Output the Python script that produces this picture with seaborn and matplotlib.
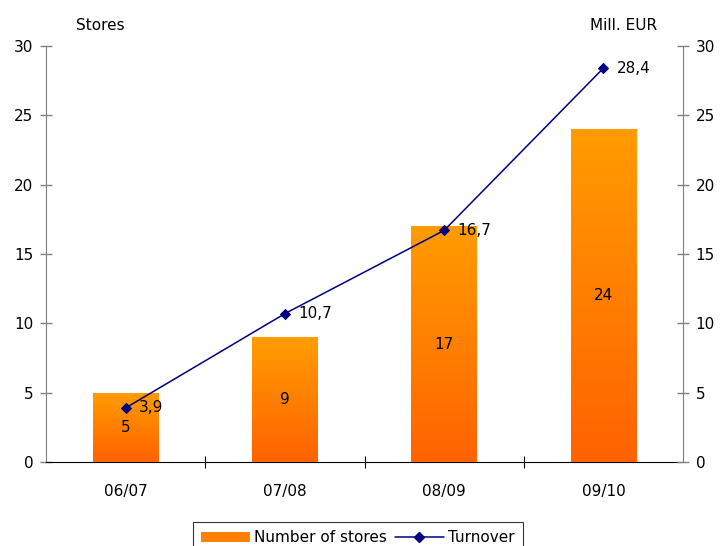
import matplotlib
matplotlib.use("Agg")
import matplotlib.pyplot as plt
import seaborn as sns
import numpy as np
import pandas as pd
from matplotlib.colors import LinearSegmentedColormap
from matplotlib.lines import Line2D
from matplotlib.patches import Patch

periods = ["06/07", "07/08", "08/09", "09/10"]
stores = [5, 9, 17, 24]
turnover = [3.9, 10.7, 16.7, 28.4]
yticks = [0, 5, 10, 15, 20, 25, 30]

FS = 11

sns.set_style("white")
plt.rcParams["font.family"] = ["DejaVu Sans"]
plt.rcParams["font.size"] = FS
plt.rcParams["text.color"] = "black"
plt.rcParams["xtick.labelcolor"] = "black"
plt.rcParams["ytick.labelcolor"] = "black"

fig = plt.figure(figsize=(7.21, 5.46), dpi=100)
ax = fig.add_axes([0.0638, 0.1538, 0.8835, 0.762])

df = pd.DataFrame({"period": periods, "stores": stores})
sns.barplot(data=df, x="period", y="stores", ax=ax, width=0.41,
            color="#FF8000", saturation=1, zorder=2)

# vertical orange gradient inside each bar
grad = LinearSegmentedColormap.from_list("og", ["#FF6200", "#FF9C00"])
ax.set_xlim(-0.5, 3.5)
ax.set_ylim(0, 30)
for p in ax.patches:
    x0, y0 = p.get_x(), p.get_y()
    w, h = p.get_width(), p.get_height()
    img = np.linspace(0, 1, 256).reshape(-1, 1)
    im = ax.imshow(img, cmap=grad, origin="lower", aspect="auto",
                   extent=[x0, x0 + w, y0, y0 + h], zorder=3)
    im.set_clip_path(p)
    ax.text(x0 + w / 2, y0 + h / 2, f"{int(h)}", ha="center", va="center",
            fontsize=FS, color="black", zorder=5)
ax.set_xlim(-0.5, 3.5)
ax.set_ylim(0, 30)

ax2 = ax.twinx()
sns.lineplot(x=np.arange(len(periods)), y=turnover, ax=ax2, color="#000080",
             marker="D", markersize=5, markeredgecolor="#000080",
             linewidth=1.1, zorder=6)
ax2.set_ylim(0, 30)
ax2.set_xlim(-0.5, 3.5)
for i, v in enumerate(turnover):
    ax2.text(i + 0.085, v, f"{v:.1f}".replace(".", ","), ha="left",
             va="center", fontsize=FS, color="black", zorder=7)

for a in (ax, ax2):
    for s in a.spines.values():
        s.set_visible(False)

ax.spines["left"].set_visible(True)
ax.spines["left"].set_color("#808080")
ax.spines["bottom"].set_visible(True)
ax.spines["bottom"].set_color("black")
ax2.spines["right"].set_visible(True)
ax2.spines["right"].set_color("#808080")

ax.set_yticks(yticks)
ax.set_yticklabels([str(t) for t in yticks])
ax2.set_yticks(yticks)
ax2.set_yticklabels([str(t) for t in yticks])
ax.tick_params(axis="y", direction="inout", length=8, width=1,
               color="#808080", left=True, labelsize=FS, pad=5,
               labelcolor="black")
ax2.tick_params(axis="y", direction="inout", length=8, width=1,
                color="#808080", right=True, labelsize=FS, pad=5,
                labelcolor="black")

ax.set_xticks([0.5, 1.5, 2.5], minor=False)
ax.set_xticklabels([])
ax.set_xticks(range(len(periods)), minor=True)
ax.set_xticklabels(periods, minor=True)
ax.tick_params(axis="x", which="major", direction="inout", length=8,
               color="black", bottom=True)
ax.tick_params(axis="x", which="minor", length=0, pad=16, labelsize=FS,
               labelcolor="black")
ax.set_xlabel("")
ax.set_ylabel("")
ax2.set_ylabel("")
ax.grid(False)
ax2.grid(False)

fig.text(100 / 721, 1 - 25 / 546, "Stores", ha="center", va="center",
         fontsize=FS, color="black")
fig.text(624 / 721, 1 - 25 / 546, "Mill. EUR", ha="center", va="center",
         fontsize=FS, color="black")

handles = [Patch(facecolor="#FF7F00", edgecolor="none", label="Number of stores"),
           Line2D([0], [0], color="#000080", marker="D", markersize=5,
                  linewidth=1.1, label="Turnover")]
leg = fig.legend(handles=handles, loc="upper center",
                 bbox_to_anchor=(358 / 721, 1 - 522 / 546), ncol=2,
                 frameon=True, fancybox=False, fontsize=FS,
                 handlelength=3.2, handletextpad=0.3, columnspacing=0.5,
                 borderpad=0.55, borderaxespad=0)
leg.get_frame().set_edgecolor("black")
leg.get_frame().set_linewidth(0.8)
for t in leg.get_texts():
    t.set_color("black")

fig.savefig("out.png", dpi=100)
